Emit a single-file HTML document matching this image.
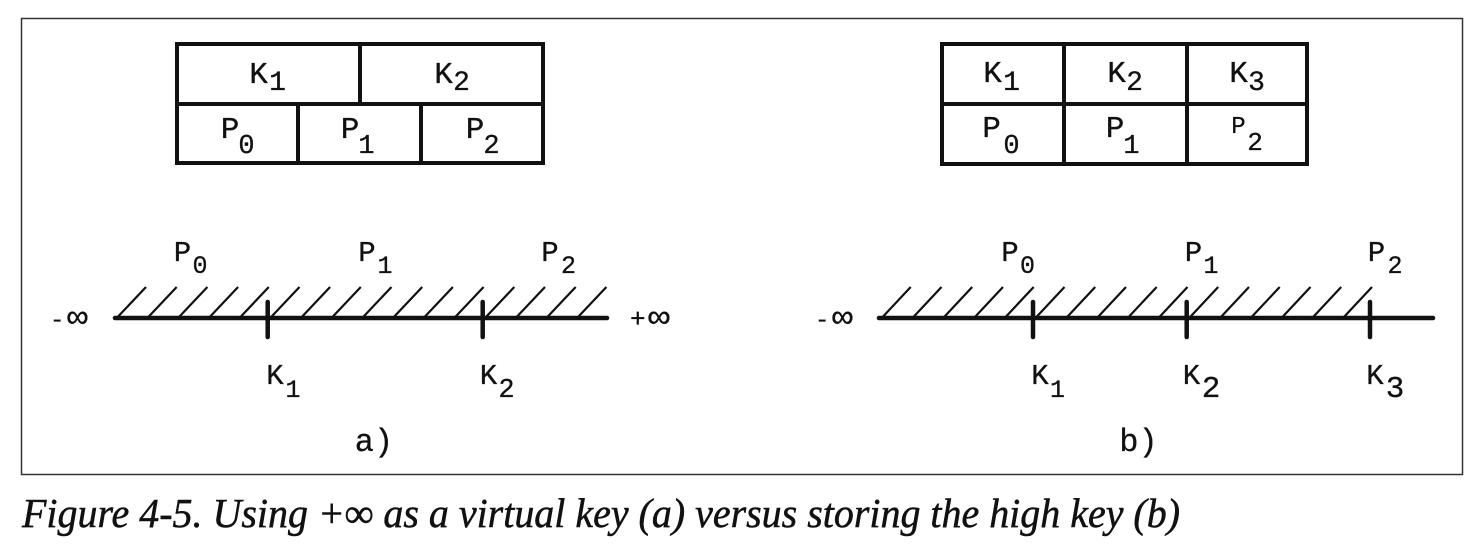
<!DOCTYPE html>
<html>
<head>
<meta charset="utf-8">
<style>
  html,body{margin:0;padding:0;background:#fff;}
  body{width:1480px;height:554px;overflow:hidden;}
  svg{display:block;}
  .m{font-family:"Liberation Mono","DejaVu Sans Mono",monospace;fill:#111;stroke:#111;stroke-width:0.3;}
  .cap{font-family:"Liberation Serif","DejaVu Serif",serif;font-style:italic;fill:#111;stroke:#111;stroke-width:0.5;}
</style>
</head>
<body>
<svg width="1480" height="554" viewBox="0 0 1480 554" xmlns="http://www.w3.org/2000/svg">
  <!-- frame -->
  <rect x="21.5" y="18.5" width="1441" height="456" fill="none" stroke="#333" stroke-width="1.5"/>

  <!-- LEFT TABLE -->
  <g stroke="#111" stroke-width="4" fill="none" stroke-linecap="square">
    <rect x="177" y="44" width="366" height="119"/>
    <line x1="177" y1="104" x2="543" y2="104"/>
    <line x1="360" y1="44" x2="360" y2="104"/>
    <line x1="298" y1="104" x2="298" y2="163"/>
    <line x1="421" y1="104" x2="421" y2="163"/>
  </g>
  <g class="m" text-anchor="middle">
    <text x="258.5" y="83" font-size="31">K</text><text x="277.5" y="90" font-size="28">1</text>
    <text x="443.5" y="83" font-size="31">K</text><text x="461.5" y="90" font-size="28">2</text>
    <text x="230" y="138" font-size="31">P</text><text x="246.5" y="153" font-size="27">0</text>
    <text x="350" y="138" font-size="31">P</text><text x="366.5" y="153" font-size="27">1</text>
    <text x="475" y="138" font-size="31">P</text><text x="491.5" y="153" font-size="27">2</text>
  </g>

  <!-- RIGHT TABLE -->
  <g stroke="#111" stroke-width="4" fill="none" stroke-linecap="square">
    <rect x="942" y="44" width="365" height="120"/>
    <line x1="942" y1="104" x2="1307" y2="104"/>
    <line x1="1064" y1="44" x2="1064" y2="164"/>
    <line x1="1187" y1="44" x2="1187" y2="164"/>
  </g>
  <g class="m" text-anchor="middle">
    <text x="992.5" y="82" font-size="31">K</text><text x="1011.5" y="90" font-size="28">1</text>
    <text x="1116.5" y="82" font-size="31">K</text><text x="1134.5" y="90" font-size="28">2</text>
    <text x="1238.5" y="82" font-size="31">K</text><text x="1256.5" y="90" font-size="28">3</text>
    <text x="991.5" y="137" font-size="31">P</text><text x="1011.5" y="153" font-size="27">0</text>
    <text x="1115" y="137" font-size="31">P</text><text x="1131.5" y="153" font-size="27">1</text>
    <text x="1238.5" y="133" font-size="24">P</text><text x="1255" y="150" font-size="26">2</text>
  </g>

  <!-- LEFT NUMBER LINE -->
  <g stroke="#111" fill="none">
    <line x1="115" y1="318" x2="607" y2="318" stroke-width="4.5" stroke-linecap="round"/>
    <line x1="267.7" y1="302" x2="267.7" y2="337" stroke-width="4.5" stroke-linecap="round"/>
    <line x1="482.7" y1="302" x2="482.7" y2="337" stroke-width="4.5" stroke-linecap="round"/>
    <path stroke-width="2.2" d="
      M116.7 318 l29.3 -31
      M147.4 318 l29.3 -31
      M178.1 318 l29.3 -31
      M208.8 318 l29.3 -31
      M239.5 318 l29.3 -31
      M270.2 318 l29.3 -31
      M300.8 318 l29.3 -31
      M331.5 318 l29.3 -31
      M362.2 318 l29.3 -31
      M392.9 318 l29.3 -31
      M423.6 318 l29.3 -31
      M454.3 318 l29.3 -31
      M485.0 318 l29.3 -31
      M515.7 318 l29.3 -31
      M546.4 318 l29.3 -31
      M577.1 318 l29.3 -31"/>
  </g>
  <g class="m" text-anchor="middle">
    <text x="182.5" y="261" font-size="29">P</text><text x="200" y="273" font-size="25">0</text>
    <text x="367" y="261" font-size="29">P</text><text x="385" y="273" font-size="25">1</text>
    <text x="550" y="261" font-size="29">P</text><text x="568.5" y="273" font-size="25">2</text>
    <text x="275" y="384" font-size="29">K</text><text x="293" y="397" font-size="25">1</text>
    <text x="488.5" y="384" font-size="29">K</text><text x="506.5" y="397" font-size="27">2</text>
  </g>
  <g class="m">
    <text x="50" y="327" font-size="24">-</text>
    <text x="67" y="327" font-size="32" textLength="21" lengthAdjust="spacingAndGlyphs">∞</text>
    <text x="630" y="327" font-size="26">+</text>
    <text x="648" y="327" font-size="32" textLength="22" lengthAdjust="spacingAndGlyphs">∞</text>
  </g>
  <text class="m" x="374" y="451" font-size="32" text-anchor="middle">a)</text>

  <!-- RIGHT NUMBER LINE -->
  <g stroke="#111" fill="none">
    <line x1="879" y1="318" x2="1433" y2="318" stroke-width="4.5" stroke-linecap="round"/>
    <line x1="1033" y1="302" x2="1033" y2="337" stroke-width="4.5" stroke-linecap="round"/>
    <line x1="1186.7" y1="302" x2="1186.7" y2="337" stroke-width="4.5" stroke-linecap="round"/>
    <line x1="1370" y1="302" x2="1370" y2="337" stroke-width="4.5" stroke-linecap="round"/>
    <path stroke-width="2.2" d="
      M881.7 318 l29 -31
      M912.5 318 l29 -31
      M943.2 318 l29 -31
      M974.0 318 l29 -31
      M1004.7 318 l29 -31
      M1035.5 318 l29 -31
      M1066.2 318 l29 -31
      M1097.0 318 l29 -31
      M1127.7 318 l29 -31
      M1158.5 318 l29 -31
      M1189.2 318 l29 -31
      M1220.0 318 l29 -31
      M1250.7 318 l29 -31
      M1281.5 318 l29 -31
      M1312.2 318 l29 -31
      M1343.0 318 l29 -31"/>
  </g>
  <g class="m" text-anchor="middle">
    <text x="1010" y="261" font-size="29">P</text><text x="1027.5" y="273" font-size="25">0</text>
    <text x="1193.5" y="261" font-size="29">P</text><text x="1211" y="273" font-size="25">1</text>
    <text x="1376.5" y="261" font-size="29">P</text><text x="1395" y="273" font-size="25">2</text>
    <text x="1040" y="384" font-size="29">K</text><text x="1057.5" y="397" font-size="25">1</text>
    <text x="1191.5" y="384" font-size="29">K</text><text x="1211" y="397" font-size="31">2</text>
    <text x="1375" y="384" font-size="29">K</text><text x="1395" y="397" font-size="31">3</text>
  </g>
  <g class="m">
    <text x="815" y="327" font-size="24">-</text>
    <text x="832" y="327" font-size="32" textLength="21" lengthAdjust="spacingAndGlyphs">∞</text>
  </g>
  <text class="m" x="1138.5" y="451" font-size="32" text-anchor="middle">b)</text>

  <!-- CAPTION -->
  <text class="cap" x="22" y="527" font-size="41" textLength="1158" lengthAdjust="spacingAndGlyphs">Figure 4-5. Using +∞ as a virtual key (a) versus storing the high key (b)</text>
</svg>
</body>
</html>
